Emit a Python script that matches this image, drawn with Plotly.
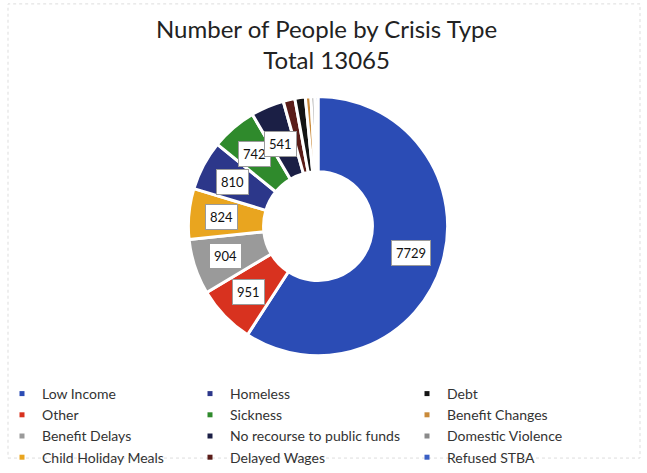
import math
import plotly.graph_objects as go

W, H = 647, 473

categories = ["Low Income", "Other", "Benefit Delays", "Child Holiday Meals",
              "Homeless", "Sickness", "No recourse to public funds", "Delayed Wages",
              "Debt", "Benefit Changes", "Domestic Violence", "Refused STBA"]
values = [7729, 951, 904, 824, 810, 742, 541, 190, 170, 90, 64, 50]
labelled = [True, True, True, True, True, True, True, False, False, False, False, False]
colors = ["#2b4cb5", "#d8321f", "#9a9a9a", "#e9a51f", "#2c378a", "#2f8a2c",
          "#1b1f45", "#5a1c18", "#141414", "#c98a3a", "#8a8a8a", "#3a5fc4"]
legend_cols = [
    ["Low Income", "Other", "Benefit Delays", "Child Holiday Meals"],
    ["Homeless", "Sickness", "No recourse to public funds", "Delayed Wages"],
    ["Debt", "Benefit Changes", "Domestic Violence", "Refused STBA"],
]
title_lines = ["Number of People by Crisis Type", "Total 13065"]

FONT = "Lato"

# pie geometry (pixels)
cx, cy, R = 318, 232, 133
hole = 0.42

fig = go.Figure()
fig.add_trace(go.Pie(
    labels=categories, values=values, sort=False, direction="clockwise",
    rotation=0, hole=hole, textinfo="none", hoverinfo="label+value",
    marker=dict(colors=colors, line=dict(color="white", width=3)),
    showlegend=False,
    domain=dict(x=[(cx - R) / W, (cx + R) / W], y=[1 - (cy + R) / H, 1 - (cy - R) / H]),
))

# data labels placed at slice mid-angles
total = sum(values)
cum = 0
annotations = []
r_lab = 97
for name, v, show in zip(categories, values, labelled):
    mid = (cum + v / 2) / total * 2 * math.pi
    cum += v
    if not show:
        continue
    px = cx + r_lab * math.sin(mid)
    py = cy - r_lab * math.cos(mid)
    annotations.append(dict(
        x=px / W, y=1 - py / H, xref="paper", yref="paper", showarrow=False,
        text=str(v), font=dict(family=FONT, size=13, color="#111"),
        yshift=8 if name == "No recourse to public funds" else 0,
        bgcolor="white", bordercolor="#9a9a9a", borderwidth=1, borderpad=4,
    ))

# title
annotations.append(dict(
    x=326 / W, y=1 - 45 / H, xref="paper", yref="paper", showarrow=False,
    xanchor="center", yanchor="middle",
    text="<br>".join(title_lines), font=dict(family=FONT, size=24, color="#222"),
))

# legend entries
legend_x = [2, 190, 407]
for ci, col in enumerate(legend_cols):
    lname = "legend" if ci == 0 else f"legend{ci + 1}"
    for name in col:
        idx = categories.index(name)
        fig.add_trace(go.Scatter(
            x=[None], y=[None], mode="markers", name=name,
            marker=dict(symbol="square", size=5, color=colors[idx]),
            legend=lname, showlegend=True,
        ))

legend_common = dict(orientation="v", xanchor="left", yanchor="top",
                     font=dict(family=FONT, size=14, color="#333"),
                     bgcolor="rgba(0,0,0,0)", itemwidth=30, tracegroupgap=0)
fig.update_layout(
    width=W, height=H, margin=dict(l=0, r=0, t=0, b=0),
    paper_bgcolor="white", plot_bgcolor="white",
    xaxis=dict(visible=False), yaxis=dict(visible=False),
    legend=dict(x=legend_x[0] / W, y=1 - 388 / H, **legend_common),
    legend2=dict(x=legend_x[1] / W, y=1 - 388 / H, **legend_common),
    legend3=dict(x=legend_x[2] / W, y=1 - 388 / H, **legend_common),
    annotations=annotations,
    shapes=[dict(type="rect", xref="paper", yref="paper", x0=8 / W, x1=640 / W,
                 y0=1 - 470 / H, y1=1 - 4 / H, line=dict(color="#dddddd", width=1, dash="dot"))],
)

fig.write_html("out.html")
